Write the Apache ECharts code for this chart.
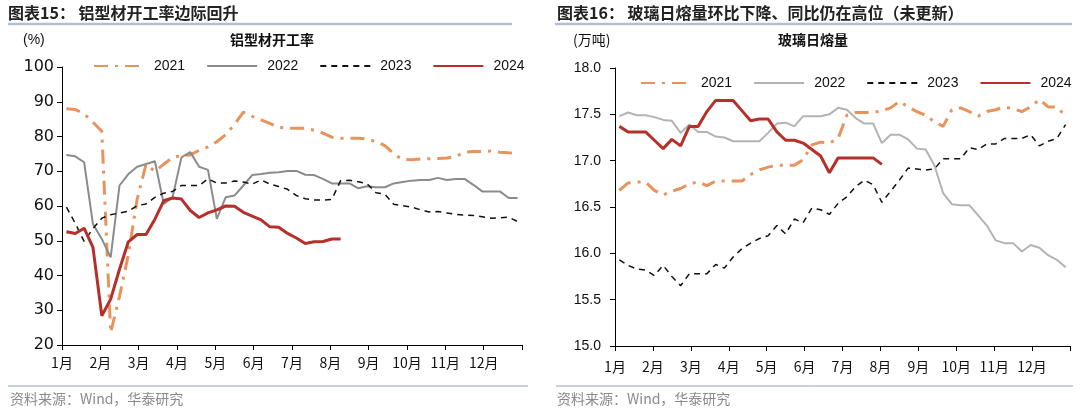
<!DOCTYPE html>
<html><head><meta charset="utf-8">
<script src="https://cdn.jsdelivr.net/npm/echarts@6.0.0/dist/echarts.min.js"></script>
<style>html,body{margin:0;padding:0;background:#fff}#c{width:1080px;height:416px}</style>
</head><body><div id="c"></div>
<script>
// weekly categories (52 weeks) and month tick labels
const weeks = Array.from({length: 52}, (_, i) => 'W' + (i + 1));
const monthLabels = ['1月','2月','3月','4月','5月','6月','7月','8月','9月','10月','11月','12月'];
const yearNames = ['2021','2022','2023','2024'];

// 铝型材开工率 (%)
const al2021 = [88.0,87.8,86.5,84.1,81.5,23.5,34,46,62,72,70,72,74,74.5,74.7,76,77,78.5,80.5,83.5,87,85.8,84.8,83.8,82.6,82.4,82.4,82.4,81.8,81,79.8,79.5,79.5,79.5,79.3,78.5,77.4,75,73.4,73.3,73.5,73.6,73.7,73.8,74.2,75.5,75.7,75.7,75.8,75.5,75.3,75.2];
const al2022 = [74.7,74.3,72.6,54.8,50.5,45.2,65.9,69.2,71.3,72.1,72.9,60.6,62.5,74,75.5,71.3,70.4,56.3,62.5,63,65.9,68.9,69.2,69.6,69.7,70.1,70.1,69,68.9,67.8,66.5,66.5,66.5,65.1,65.7,65.4,65.4,66.5,66.9,67.3,67.5,67.5,68.1,67.5,67.8,67.8,66.1,64.2,64.2,64.2,62.3,62.3];
const al2023 = [59.7,55,49.8,53.5,56.5,57.5,58,58.5,60.1,60.6,62.5,63.7,64.2,65.9,65.9,65.9,67.8,66.6,66.6,67.2,66.9,66.3,67.5,66.3,65.6,64.8,63,62.1,61.7,61.7,61.9,67.3,67.4,67,66.4,63.8,63.4,60.5,60.1,59.7,58.9,58.3,58.4,58,57.6,57.4,57.3,56.9,56.5,56.6,56.8,55.5];
const al2024 = [52.6,52.1,53.6,48.1,28.4,33.2,41.8,49.7,51.8,51.8,56.2,61.5,62.3,62,58.7,56.7,58,58.9,60,59.9,58.2,57.1,56,54,53.9,52.1,50.8,49.2,49.7,49.8,50.5,50.5];

// 玻璃日熔量 (万吨)
const gl2021 = [16.68,16.76,16.77,16.77,16.68,16.63,16.67,16.70,16.75,16.77,16.73,16.78,16.78,16.78,16.78,16.85,16.90,16.93,16.95,16.95,16.95,17.01,17.17,17.20,17.19,17.24,17.49,17.52,17.52,17.52,17.54,17.57,17.64,17.58,17.53,17.49,17.42,17.37,17.55,17.57,17.53,17.48,17.53,17.55,17.58,17.56,17.53,17.58,17.66,17.58,17.58,17.48];
const gl2022 = [17.48,17.52,17.49,17.49,17.47,17.44,17.43,17.30,17.39,17.31,17.31,17.26,17.25,17.21,17.21,17.21,17.21,17.30,17.40,17.41,17.37,17.48,17.48,17.48,17.50,17.57,17.55,17.46,17.40,17.40,17.19,17.28,17.28,17.23,17.13,17.12,16.95,16.65,16.53,16.52,16.52,16.41,16.30,16.14,16.11,16.11,16.02,16.09,16.06,15.98,15.93,15.85];
const gl2023 = [15.93,15.87,15.83,15.82,15.76,15.87,15.75,15.65,15.78,15.78,15.78,15.88,15.84,15.96,16.05,16.11,16.16,16.19,16.30,16.21,16.37,16.33,16.49,16.47,16.42,16.54,16.61,16.72,16.79,16.74,16.55,16.67,16.79,16.92,16.91,16.90,16.91,17.02,17.02,17.02,17.14,17.12,17.18,17.18,17.24,17.24,17.24,17.28,17.16,17.21,17.24,17.39];
const gl2024 = [17.37,17.31,17.31,17.31,17.22,17.13,17.23,17.16,17.37,17.37,17.53,17.65,17.65,17.65,17.54,17.43,17.45,17.45,17.31,17.22,17.22,17.19,17.12,17.05,16.87,17.03,17.03,17.03,17.03,17.03,16.96];

const FONT = '"Liberation Sans", Arial, sans-serif';
const CJK = '"Noto Sans CJK SC", sans-serif';
const C_OR = '#e9935c', C_GY_L = '#8b8b8b', C_GY_R = '#b3b3b3', C_BK = '#111111', C_RD = '#b5302a';

function styleFor(year, right) {
  if (year === '2021') return {color: C_OR, width: 3, type: [14, 7, 3, 7]};
  if (year === '2022') return {color: right ? C_GY_R : C_GY_L, width: 2, type: 'solid'};
  if (year === '2023') return {color: C_BK, width: 1.5, type: [6, 5]};
  return {color: C_RD, width: 3, type: 'solid'};
}
function mkSeries(name, data, grid, prefix) {
  const ls = styleFor(name, grid === 1);
  return {
    name: prefix + name, type: 'line', data: data,
    xAxisIndex: grid * 2, yAxisIndex: grid,
    symbol: 'none', smooth: false, animation: false,
    lineStyle: ls, itemStyle: {color: ls.color}
  };
}
const leftData = [al2021, al2022, al2023, al2024];
const rightData = [gl2021, gl2022, gl2023, gl2024];
const series = [];
yearNames.forEach((y, i) => series.push(mkSeries(y, leftData[i], 0, 'L')));
yearNames.forEach((y, i) => series.push(mkSeries(y, rightData[i], 1, 'R')));

function monthAxis(grid, margin) {
  return {
    type: 'value', gridIndex: grid, min: 0, max: 12, interval: 1, position: 'bottom',
    axisLine: {show: true, lineStyle: {color: '#000', width: 1}},
    axisTick: {show: true, length: 5, lineStyle: {color: '#000'}},
    splitLine: {show: false},
    axisLabel: {margin: margin, color: '#111', fontSize: 14, fontFamily: CJK,
      formatter: v => (v < 12 ? monthLabels[v] : '')}
  };
}
function catAxis(grid) {
  return {type: 'category', gridIndex: grid, data: weeks, show: false, boundaryGap: true};
}

const legendCommon = {
  itemWidth: 50, itemHeight: 12, itemGap: 21,
  itemStyle: {opacity: 0},
  textStyle: {fontFamily: FONT, fontSize: 14, color: '#111', padding: [0, 0, 0, 5]},
  selectedMode: false, formatter: n => n.slice(1)
};

const option = {
  backgroundColor: '#fff',
  animation: false,
  title: [
    {text: '图表15： 铝型材开工率边际回升', left: 8, top: 5, padding: 0,
     textStyle: {fontFamily: CJK, fontSize: 16, fontWeight: 'bold', color: '#222'}},
    {text: '图表16： 玻璃日熔量环比下降、同比仍在高位（未更新）', left: 557, top: 5, padding: 0,
     textStyle: {fontFamily: CJK, fontSize: 16, fontWeight: 'bold', color: '#222'}},
    {text: '(%)', left: 23, top: 33, padding: 0,
     textStyle: {fontFamily: FONT, fontSize: 14, fontWeight: 'normal', color: '#111'}},
    {text: '铝型材开工率', left: 230, top: 33, padding: 0,
     textStyle: {fontFamily: CJK, fontSize: 14, fontWeight: 'bold', color: '#111'}},
    {text: '(万吨)', left: 573, top: 33, padding: 0,
     textStyle: {fontFamily: CJK, fontSize: 14, fontWeight: 'normal', color: '#111'}},
    {text: '玻璃日熔量', left: 778, top: 33, padding: 0,
     textStyle: {fontFamily: CJK, fontSize: 14, fontWeight: 'bold', color: '#111'}},
    {text: '资料来源：Wind，华泰研究', left: 10, top: 392, padding: 0,
     textStyle: {fontFamily: CJK, fontSize: 14, fontWeight: 'normal', color: '#8a8a8a'}},
    {text: '资料来源：Wind，华泰研究', left: 557, top: 392, padding: 0,
     textStyle: {fontFamily: CJK, fontSize: 14, fontWeight: 'normal', color: '#8a8a8a'}}
  ],
  graphic: [
    {type: 'line', shape: {x1: 8, y1: 24, x2: 512, y2: 24}, style: {stroke: '#b3bfcf', lineWidth: 2.5}},
    {type: 'line', shape: {x1: 555, y1: 24, x2: 1072, y2: 24}, style: {stroke: '#b3bfcf', lineWidth: 2.5}},
    {type: 'line', shape: {x1: 8, y1: 386, x2: 528, y2: 386}, style: {stroke: '#8fa2c2', lineWidth: 1}},
    {type: 'line', shape: {x1: 556, y1: 386, x2: 1073, y2: 386}, style: {stroke: '#8fa2c2', lineWidth: 1}}
  ],
  legend: [
    Object.assign({}, legendCommon, {left: 88, top: 54, data: yearNames.map(y => 'L' + y)}),
    Object.assign({}, legendCommon, {left: 635, top: 71, data: yearNames.map(y => 'R' + y)})
  ],
  grid: [
    {left: 62, right: 558, top: 67, bottom: 71},
    {left: 615, right: 10, top: 68, bottom: 70}
  ],
  xAxis: [catAxis(0), monthAxis(0, 11), catAxis(1), monthAxis(1, 14)],
  yAxis: [
    {type: 'value', gridIndex: 0, min: 20, max: 100, interval: 10,
     axisLine: {show: true, lineStyle: {color: '#000'}},
     axisTick: {show: true, length: 5, lineStyle: {color: '#000'}},
     splitLine: {show: false},
     axisLabel: {margin: 8, color: '#111', fontSize: 16, fontFamily: '"DejaVu Sans", sans-serif'}},
    {type: 'value', gridIndex: 1, min: 15, max: 18, interval: 0.5,
     axisLine: {show: true, lineStyle: {color: '#000'}},
     axisTick: {show: true, length: 5, lineStyle: {color: '#000'}},
     splitLine: {show: false},
     axisLabel: {margin: 14, color: '#111', fontSize: 14, fontFamily: FONT, formatter: v => v.toFixed(1)}}
  ],
  series: series
};
const chart = echarts.init(document.getElementById('c'), null, {renderer: 'canvas'});
chart.setOption(option);
</script>
</body></html>
